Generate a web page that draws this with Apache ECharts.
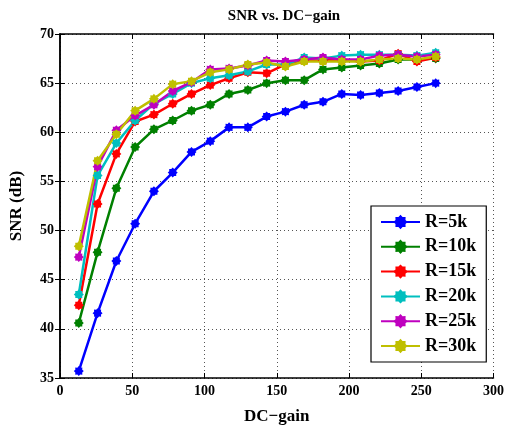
<!DOCTYPE html>
<html>
<head>
<meta charset="utf-8">
<script src="https://cdn.jsdelivr.net/npm/echarts@6/dist/echarts.min.js"></script>
<style>html,body{margin:0;padding:0;background:#fff;}#c{width:507px;height:430px;}</style>
</head>
<body>
<div id="c"></div>
<script>
const dcGain = [13, 26, 39, 52, 65, 78, 91, 104, 117, 130, 143, 156, 169, 182, 195, 208, 221, 234, 247, 260];
const r5k  = [35.7, 41.6, 46.9, 50.7, 54.0, 55.9, 58.0, 59.1, 60.5, 60.5, 61.6, 62.1, 62.8, 63.1, 63.9, 63.8, 64.0, 64.2, 64.6, 65.0];
const r10k = [40.6, 47.8, 54.3, 58.5, 60.3, 61.2, 62.2, 62.8, 63.9, 64.3, 65.0, 65.3, 65.3, 66.4, 66.6, 66.8, 67.0, 67.4, 67.4, 67.5];
const r15k = [42.4, 52.7, 57.8, 61.1, 61.8, 62.9, 63.9, 64.8, 65.5, 66.1, 66.0, 66.9, 67.3, 67.3, 67.4, 67.2, 67.3, 68.0, 67.2, 67.6];
const r20k = [43.5, 55.6, 58.9, 61.2, 62.9, 63.9, 65.0, 65.5, 65.8, 66.2, 66.9, 66.9, 67.6, 67.5, 67.8, 67.9, 67.9, 67.9, 67.8, 68.1];
const r25k = [47.3, 56.5, 60.2, 61.7, 62.8, 64.2, 65.1, 66.4, 66.5, 66.8, 67.3, 67.2, 67.4, 67.6, 67.4, 67.4, 67.8, 67.9, 67.7, 67.9];
const r30k = [48.4, 57.1, 59.8, 62.2, 63.4, 64.9, 65.2, 66.1, 66.4, 66.9, 67.1, 66.7, 67.2, 67.2, 67.2, 67.2, 67.4, 67.5, 67.4, 67.7];
const seriesNames = ['R=5k', 'R=10k', 'R=15k', 'R=20k', 'R=25k', 'R=30k'];
const seriesValues = [r5k, r10k, r15k, r20k, r25k, r30k];
const colors = ['#0000ff', '#008000', '#ff0000', '#00bfbf', '#bf00bf', '#bfbf00'];
const xTicks = [0, 50, 100, 150, 200, 250, 300];
const yTicks = [35, 40, 45, 50, 55, 60, 65, 70];

const star = 'path://M20 10 L16.93 12.87 L17.07 17.07 L12.87 16.93 L10 20 L7.13 16.93 L2.93 17.07 L3.07 12.87 L0 10 L3.07 7.13 L2.93 2.93 L7.13 3.07 L10 0 L12.87 3.07 L17.07 2.93 L16.93 7.13 Z';
const font = '"Liberation Serif", "Times New Roman", serif';

const chart = echarts.init(document.getElementById('c'), null, {renderer: 'canvas'});
const axisLine = {show: true, lineStyle: {color: '#000', width: 1.5}};
const tick = {show: true, inside: true, length: 5, lineStyle: {color: '#000', width: 1}};
const grid = {show: true, lineStyle: {color: '#555', type: [1, 3], width: 1}};

chart.setOption({
  animation: false,
  backgroundColor: '#fff',
  title: {
    text: 'SNR vs. DC\u2212gain', left: 279, textAlign: 'center', top: 4,
    textStyle: {fontFamily: font, fontWeight: 'bold', fontSize: 15, color: '#000'}
  },
  grid: {left: 60, right: 9, top: 34, bottom: 51, containLabel: false},
  legend: {
    orient: 'vertical', left: 371, top: 206,
    backgroundColor: '#fff', borderColor: '#000', borderWidth: 1.2,
    padding: [7, 10, 7, 9], itemGap: 6.8, itemWidth: 39, itemHeight: 18,
    textStyle: {fontFamily: font, fontWeight: 'bold', fontSize: 18, color: '#000'},
    data: seriesNames
  },
  xAxis: [{
    type: 'value', min: xTicks[0], max: xTicks[xTicks.length - 1], interval: 50,
    name: 'DC\u2212gain', nameLocation: 'middle', nameGap: 30,
    nameTextStyle: {fontFamily: font, fontWeight: 'bold', fontSize: 17, color: '#000'},
    axisLine: axisLine, axisTick: tick, splitLine: grid,
    axisLabel: {fontFamily: font, fontWeight: 'bold', fontSize: 14, color: '#000', margin: 6}
  }, {
    type: 'value', position: 'top', min: xTicks[0], max: xTicks[xTicks.length - 1], interval: 50,
    axisLine: axisLine, axisTick: tick, splitLine: {show: false}, axisLabel: {show: false}
  }],
  yAxis: [{
    type: 'value', min: yTicks[0], max: yTicks[yTicks.length - 1], interval: 5,
    name: 'SNR (dB)', nameLocation: 'middle', nameGap: 35,
    nameTextStyle: {fontFamily: font, fontWeight: 'bold', fontSize: 17, color: '#000'},
    axisLine: axisLine, axisTick: tick, splitLine: grid,
    axisLabel: {fontFamily: font, fontWeight: 'bold', fontSize: 14, color: '#000', margin: 6}
  }, {
    type: 'value', position: 'right', min: yTicks[0], max: yTicks[yTicks.length - 1], interval: 5,
    axisLine: axisLine, axisTick: tick, splitLine: {show: false}, axisLabel: {show: false}
  }],
  series: seriesNames.map((name, i) => ({
    name: name, type: 'line',
    data: dcGain.map((x, j) => [x, seriesValues[i][j]]),
    symbol: star, symbolSize: 10,
    lineStyle: {color: colors[i], width: 2.5},
    itemStyle: {color: colors[i], borderWidth: 0},
    color: colors[i]
  }))
});
</script>
</body>
</html>
